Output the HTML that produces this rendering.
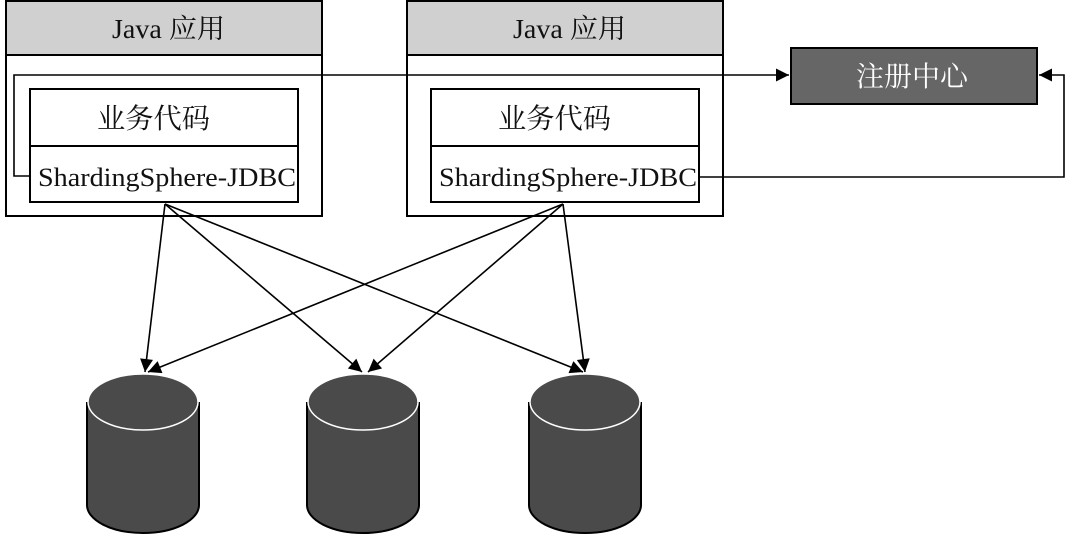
<!DOCTYPE html>
<html><head><meta charset="utf-8"><style>
html,body{margin:0;padding:0;background:#fff;}
svg{display:block;}
text{font-family:"Liberation Serif","Noto Serif CJK SC",serif;fill:#111;}
</style></head><body>
<svg width="1080" height="535" viewBox="0 0 1080 535">
<defs>
<marker id="a" viewBox="0 0 10 10" refX="10" refY="5" markerWidth="22" markerHeight="13" markerUnits="userSpaceOnUse" orient="auto">
<path d="M0,0 L10,5 L0,10 z" fill="#000"/></marker>
</defs>
<!-- App box 1 -->
<rect x="6" y="1" width="316" height="215" fill="#fff" stroke="#000" stroke-width="2"/>
<rect x="6" y="1" width="316" height="54" fill="#d0d0d0" stroke="#000" stroke-width="2"/>
<text x="112" y="38" font-size="27" textLength="113" lengthAdjust="spacingAndGlyphs">Java 应用</text>
<rect x="30" y="89" width="268" height="113" fill="#fff" stroke="#000" stroke-width="2"/>
<line x1="30" y1="146" x2="298" y2="146" stroke="#000" stroke-width="2"/>
<text x="97" y="128" font-size="28" textLength="113" lengthAdjust="spacingAndGlyphs">业务代码</text>
<text x="38" y="186" font-size="26" textLength="258" lengthAdjust="spacingAndGlyphs">ShardingSphere-JDBC</text>
<!-- App box 2 -->
<rect x="407" y="1" width="316" height="215" fill="#fff" stroke="#000" stroke-width="2"/>
<rect x="407" y="1" width="316" height="54" fill="#d0d0d0" stroke="#000" stroke-width="2"/>
<text x="513" y="38" font-size="27" textLength="113" lengthAdjust="spacingAndGlyphs">Java 应用</text>
<rect x="431" y="89" width="268" height="113" fill="#fff" stroke="#000" stroke-width="2"/>
<line x1="431" y1="146" x2="699" y2="146" stroke="#000" stroke-width="2"/>
<text x="498" y="128" font-size="28" textLength="113" lengthAdjust="spacingAndGlyphs">业务代码</text>
<text x="439" y="186" font-size="26" textLength="258" lengthAdjust="spacingAndGlyphs">ShardingSphere-JDBC</text>
<!-- registry -->
<rect x="791" y="48" width="246" height="56" fill="#666" stroke="#000" stroke-width="2"/>
<text x="856" y="86" font-size="28" textLength="112" lengthAdjust="spacingAndGlyphs" style="fill:#fff">注册中心</text>
<!-- connectors -->
<polyline points="30,176 14,176 14,75 789,75" fill="none" stroke="#000" stroke-width="1.6" marker-end="url(#a)"/>
<polyline points="699,177 1064,177 1064,75 1039,75" fill="none" stroke="#000" stroke-width="1.6" marker-end="url(#a)"/>
<!-- arrows -->
<g stroke="#000" stroke-width="1.6" marker-end="url(#a)">
<line x1="165" y1="204" x2="145" y2="372"/>
<line x1="165" y1="204" x2="362" y2="372"/>
<line x1="165" y1="204" x2="583" y2="372"/>
<line x1="563" y1="204" x2="148" y2="372"/>
<line x1="563" y1="204" x2="368" y2="372"/>
<line x1="563" y1="204" x2="585" y2="372"/>
</g>
<!-- cylinders -->
<g>
<path d="M87,402 L87,505 A56,28 0 0 0 199,505 L199,402" fill="#4a4a4a" stroke="#000" stroke-width="2"/>
<ellipse cx="143" cy="402" rx="55" ry="28" fill="#4a4a4a" stroke="#fff" stroke-width="1.5"/>
<path d="M307,402 L307,505 A56,28 0 0 0 419,505 L419,402" fill="#4a4a4a" stroke="#000" stroke-width="2"/>
<ellipse cx="363" cy="402" rx="55" ry="28" fill="#4a4a4a" stroke="#fff" stroke-width="1.5"/>
<path d="M529,402 L529,505 A56,28 0 0 0 641,505 L641,402" fill="#4a4a4a" stroke="#000" stroke-width="2"/>
<ellipse cx="585" cy="402" rx="55" ry="28" fill="#4a4a4a" stroke="#fff" stroke-width="1.5"/>
</g>
</svg>
</body></html>
